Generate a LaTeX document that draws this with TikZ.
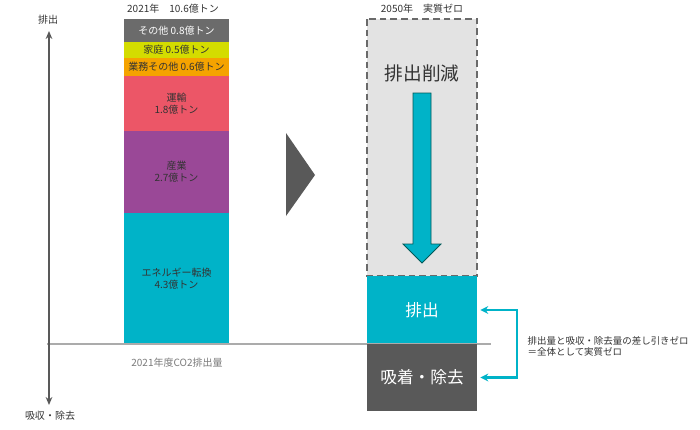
\documentclass[tikz,border=0pt]{standalone}
\usepackage{fontspec}
\setmainfont{Noto Sans CJK JP}
\usetikzlibrary{arrows.meta}
\definecolor{otherGray}{HTML}{6B6B6B}
\definecolor{homeYellow}{HTML}{D4DC00}
\definecolor{bizOrange}{HTML}{F5A300}
\definecolor{transRed}{HTML}{EC5667}
\definecolor{indPurple}{HTML}{9A4897}
\definecolor{energyCyan}{HTML}{00B3C8}
\definecolor{darkGray}{HTML}{595959}
\definecolor{paleGray}{HTML}{E3E3E3}
\definecolor{lineGray}{HTML}{ABABAB}
\definecolor{textGray}{HTML}{333333}
\tikzset{
  seg/.style={inner sep=0pt, outer sep=0pt, minimum width=78.75pt, align=center, text=textGray},
  bigbox/.style={inner sep=0pt, outer sep=0pt, minimum width=82.5pt, minimum height=50.6pt, text=white, font=\fontsize{12.5}{14}\selectfont},
  lbl/.style={text=textGray, font=\fontsize{7.5}{9}\selectfont}
}
\begin{document}
\begin{tikzpicture}[x=0.75pt, y=-0.75pt, font=\fontsize{7.5}{9}\selectfont]
\useasboundingbox (0,0) rectangle (700,429);

% 2021 bar
\node[seg, fill=otherGray, minimum height=17.25pt, text=white] (other) at (176.5,30.5) {その他 0.8億トン};
\node[seg, fill=homeYellow, minimum height=12pt] (home) at (176.5,50) {家庭 0.5億トン};
\node[seg, fill=bizOrange, minimum height=13.5pt] (biz) at (176.5,67) {業務その他 0.6億トン};
\node[seg, fill=transRed, minimum height=41.25pt] (trans) at (176.5,103.5) {運輸\\1.8億トン};
\node[seg, fill=indPurple, minimum height=61.5pt] (ind) at (176.5,172) {産業\\2.7億トン};
\node[seg, fill=energyCyan, minimum height=98.25pt] (energy) at (176.5,278.5) {エネルギー転換\\4.3億トン};
\node[lbl] (title21) at (173,9) {2021年\quad 10.6億トン};
\node[text=darkGray!80] (caption) at (177,363) {2021年度CO2排出量};

% zero line and axis
\coordinate (zl) at (47,344);
\coordinate (zr) at (491,344);
\draw[lineGray, line width=0.8pt] (zl) -- (zr);
\coordinate (axtop) at (49,31);
\coordinate (axbot) at (49,405);
\draw[{Stealth[length=6pt,width=5pt]}-{Stealth[length=6pt,width=5pt]}, darkGray, line width=1.8pt] (axtop) -- (axbot);
\node[lbl] (up) at (48,20) {排出};
\node[lbl] (down) at (50,416) {吸収・除去};

% big arrow
\fill[darkGray] (286,133) -- (315,175) -- (286,216) -- cycle;

% 2050
\node[lbl] (title50) at (422,9) {2050年\quad 実質ゼロ};
\draw[fill=paleGray, draw=darkGray!90, dashed, dash pattern=on 5pt off 3pt, line width=1.3pt] (367,19) rectangle (477,276);
\node[text=textGray, font=\fontsize{14}{16}\selectfont] (cut) at (422,73) {排出削減};
\filldraw[fill=energyCyan, draw=teal!70!black, line width=0.6pt] (413,93) -- (431,93) -- (431,244) -- (441,244) -- (422,263) -- (403,244) -- (413,244) -- cycle;
\node[bigbox, fill=energyCyan] (emit) at (422,310) {排出};
\node[bigbox, fill=darkGray] (absorb) at (422,377.5) {吸着・除去};
\draw[lineGray, line width=0.8pt] (emit.south west) -- (emit.south east);

% net zero bracket
\draw[energyCyan, line width=1.6pt, {Stealth[length=6pt,width=6pt]}-{Stealth[length=6pt,width=6pt]}] ([xshift=2.5pt]emit.east) -| (517,343) |- ([xshift=2.5pt]absorb.east);
\node[lbl, anchor=west, align=left, font=\fontsize{7.1}{8.3}\selectfont] (net) at (523,346) {排出量と吸収・除去量の差し引きゼロ\\＝全体として実質ゼロ};

\end{tikzpicture}
\end{document}
